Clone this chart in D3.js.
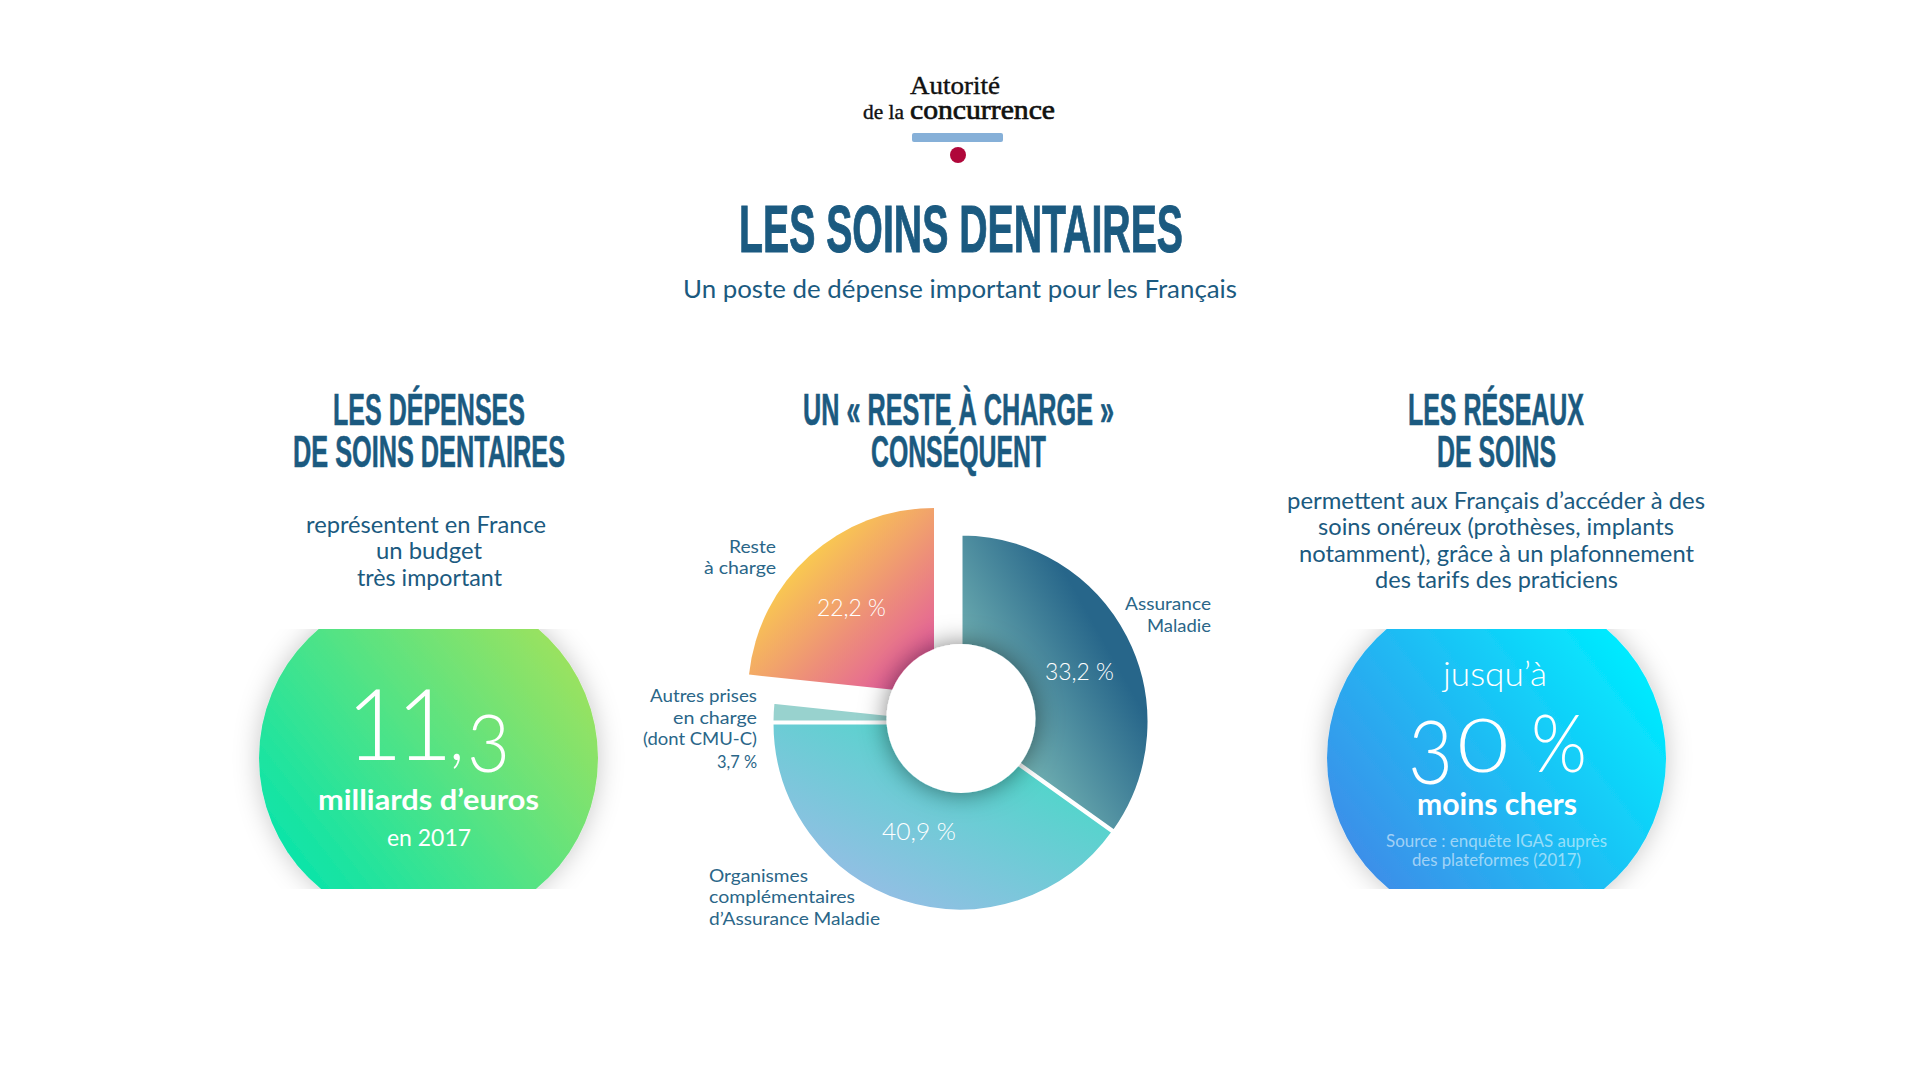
<!DOCTYPE html>
<html lang="fr">
<head>
<meta charset="utf-8">
<title>Les soins dentaires</title>
<script src="https://cdn.jsdelivr.net/npm/d3@7"></script>
<style>
    html, body { margin: 0; padding: 0; background: #fff; }
    svg { display: block; }
</style>
</head>
<body>
<div id="chart"></div>
<script>
(function () {
    'use strict';

    var BLUE = '#1b5a80';
    var LABEL = '#2a6688';
    var HEAD = '"Liberation Sans", Arial, sans-serif';
    var BODY = 'Lato, "Open Sans", sans-serif';
    var SERIF = '"Liberation Serif", serif';

    var svg = d3.select('#chart')
        .append('svg')
        .attr('width', 1920)
        .attr('height', 1080)
        .attr('viewBox', '0 0 1920 1080');

    var defs = svg.append('defs');

    // label = printed percentage, sweep = the angle the slice really has in the picture
    var slices = [
        { name: 'Assurance Maladie', label: '33,2 %', sweep: 125.5, dx: 0, dy: 0, r: 188,
          grad: [1146, 716, 1022, 786, '#27668a', '#76b6b5'] },
        { name: "Organismes complémentaires d'Assurance Maladie", label: '40,9 %', sweep: 144.5, dx: -1, dy: 1, r: 188,
          grad: [950, 740, 860, 920, '#55d4cc', '#9dbbe8'] },
        { name: 'Autres prises en charge (dont CMU-C)', label: '3,7 %', sweep: 6, dx: -1, dy: 0, r: 188,
          grad: [780, 700, 880, 720, '#98d2ce', '#98d2ce'] },
        { name: 'Reste à charge', label: '22,2 %', sweep: 84, dx: -27, dy: -28, r: 186,
          grad: [800, 565, 915, 680, '#f9c851', '#e2589f'] }
    ];

    var donut = { cx: 961, cy: 722, holeX: 961, holeY: 718.5, holeR: 74.5 };

    var circles = [
        { cx: 428.5, from: '#0ce4a9', to: '#9ae260', id: 'left' },
        { cx: 1496.5, from: '#3c8fe9', to: '#00ebff', id: 'right' }
    ];

    function linear(id, g, tx, ty) {
        var lg = defs.append('linearGradient')
            .attr('id', id)
            .attr('gradientUnits', 'userSpaceOnUse')
            .attr('x1', g[0] - tx).attr('y1', g[1] - ty)
            .attr('x2', g[2] - tx).attr('y2', g[3] - ty);
        lg.append('stop').attr('offset', 0).attr('stop-color', g[4]);
        lg.append('stop').attr('offset', 1).attr('stop-color', g[5]);
    }

    function shadow(id, blur, opacity) {
        var f = defs.append('filter')
            .attr('id', id)
            .attr('x', '-40%').attr('y', '-40%')
            .attr('width', '180%').attr('height', '180%');
        f.append('feDropShadow')
            .attr('dx', 0).attr('dy', 0)
            .attr('stdDeviation', blur)
            .attr('flood-color', '#000')
            .attr('flood-opacity', opacity);
    }

    shadow('circleShadow', 13, 0.22);
    shadow('holeShadow', 13, 0.5);

    // Side circles, cut flat at top and bottom together with their shadow
    circles.forEach(function (c) {
        var r = 169.5, cy = 758;

        defs.append('clipPath')
            .attr('id', 'clip-' + c.id)
            .append('rect')
            .attr('x', c.cx - 220).attr('y', 629)
            .attr('width', 440).attr('height', 260);

        linear('grad-' + c.id,
            [c.cx - r * 0.8, cy + r * 0.62, c.cx + r * 0.8, cy - r * 0.62, c.from, c.to], 0, 0);

        svg.append('g')
            .attr('clip-path', 'url(#clip-' + c.id + ')')
            .append('circle')
            .attr('cx', c.cx).attr('cy', cy).attr('r', r)
            .attr('fill', 'url(#grad-' + c.id + ')')
            .attr('filter', 'url(#circleShadow)');
    });

    // Donut
    var pie = d3.pie()
        .value(function (d) { return d.sweep; })
        .sort(null);

    var arc = d3.arc()
        .innerRadius(0)
        .outerRadius(function (a) { return a.data.r; });

    var arcs = pie(slices);

    arcs.forEach(function (a, i) {
        var d = a.data;
        var exploded = d.dx < -10;
        var tx = donut.cx + d.dx, ty = donut.cy + d.dy;
        linear('slice-' + i, d.grad, tx, ty);
        svg.append('path')
            .attr('class', 'slice')
            .attr('transform', 'translate(' + tx + ',' + ty + ')')
            .attr('d', arc(a))
            .attr('fill', 'url(#slice-' + i + ')')
            .attr('stroke', exploded ? 'none' : '#fff')
            .attr('stroke-width', exploded ? 0 : 3);
    });

    svg.append('circle')
        .attr('cx', donut.holeX).attr('cy', donut.holeY).attr('r', donut.holeR)
        .attr('fill', '#fff')
        .attr('filter', 'url(#holeShadow)');

    // Logo
    svg.append('rect')
        .attr('x', 912).attr('y', 133)
        .attr('width', 91).attr('height', 9).attr('rx', 2)
        .attr('fill', '#86b0d8');
    svg.append('circle')
        .attr('cx', 958).attr('cy', 155).attr('r', 8)
        .attr('fill', '#b0073a');

    // x = left edge, w = width measured on the picture
    var texts = [
        { t: 'Autorité', x: 910, y: 94, w: 90, size: 26, font: SERIF, fill: '#111', bold: 0.4 },
        { t: 'de la', x: 863, y: 119, w: 41, size: 21, font: SERIF, fill: '#111', bold: 0.4 },
        { t: 'concurrence', x: 910, y: 119, w: 145, size: 27, font: SERIF, fill: '#111', bold: 0.7 },

        { t: 'LES SOINS DENTAIRES', x: 739, y: 252, w: 444, size: 67, font: HEAD, weight: 700, fill: BLUE, bold: 1 },
        { t: 'Un poste de dépense important pour les Français', x: 683, y: 298, w: 554, size: 25, font: BODY },

        { t: 'LES DÉPENSES', x: 333, y: 425, w: 192, size: 44.5, font: HEAD, weight: 700, fill: BLUE, bold: 0.6 },
        { t: 'DE SOINS DENTAIRES', x: 293, y: 467, w: 272, size: 44.5, font: HEAD, weight: 700, fill: BLUE, bold: 0.6 },
        { t: 'UN « RESTE À CHARGE »', x: 803, y: 425, w: 311, size: 44.5, font: HEAD, weight: 700, fill: BLUE, bold: 0.6 },
        { t: 'CONSÉQUENT', x: 871, y: 467, w: 175, size: 44.5, font: HEAD, weight: 700, fill: BLUE, bold: 0.6 },
        { t: 'LES RÉSEAUX', x: 1408, y: 425, w: 176, size: 44.5, font: HEAD, weight: 700, fill: BLUE, bold: 0.6 },
        { t: 'DE SOINS', x: 1437, y: 467, w: 119, size: 44.5, font: HEAD, weight: 700, fill: BLUE, bold: 0.6 },

        { t: 'représentent en France', x: 306, y: 533, w: 240, size: 23, font: BODY },
        { t: 'un budget', x: 376, y: 559, w: 106, size: 23, font: BODY },
        { t: 'très important', x: 357, y: 586, w: 145, size: 23, font: BODY },

        { t: 'permettent aux Français d’accéder à des', x: 1287, y: 509, w: 418, size: 23, font: BODY },
        { t: 'soins onéreux (prothèses, implants', x: 1318, y: 535, w: 356, size: 23, font: BODY },
        { t: 'notamment), grâce à un plafonnement', x: 1299, y: 561.5, w: 395, size: 23, font: BODY },
        { t: 'des tarifs des praticiens', x: 1375, y: 588, w: 243, size: 23, font: BODY },

        { parts: [
            { t: '11', x: '346 396', y: 760, size: 98 },
            { t: ',', x: 449, y: 760, size: 70 },
            { t: '3', x: 467, y: 772, w: 43, size: 80 }
        ], font: BODY, weight: 300, fill: '#fff' },
        { t: 'milliards d’euros', x: 318, y: 810, w: 221, size: 29, font: BODY, weight: 700, fill: '#fff' },
        { t: 'en 2017', x: 387, y: 846, w: 84, size: 23, font: BODY, fill: '#fff' },

        { t: 'jusqu’à', x: 1443, y: 686, w: 104, size: 34, font: BODY, weight: 300, fill: '#fff' },
        { parts: [
            { t: '3', x: 1408, y: 784, w: 45, size: 89 },
            { t: '0', x: 1457, y: 772, w: 52, size: 74 },
            { t: ' ', x: 1515, y: 772, size: 74 },
            { t: '%', x: 1531, y: 772, w: 56, size: 80 }
        ], font: BODY, weight: 300, fill: '#fff' },
        { t: 'moins chers', x: 1417, y: 815, w: 160, size: 30, font: BODY, weight: 700, fill: '#fff' },
        { t: 'Source : enquête IGAS auprès', x: 1386, y: 847, w: 221, size: 17, font: BODY, fill: 'rgba(255,255,255,0.55)' },
        { t: 'des plateformes (2017)', x: 1412, y: 866, w: 169, size: 17, font: BODY, fill: 'rgba(255,255,255,0.55)' },

        { t: 'Reste', x: 729, y: 553, w: 47, size: 18, font: BODY, fill: LABEL },
        { t: 'à charge', x: 704, y: 574, w: 72, size: 18, font: BODY, fill: LABEL },
        { t: 'Assurance', x: 1125, y: 610, w: 86, size: 18, font: BODY, fill: LABEL },
        { t: 'Maladie', x: 1147, y: 632, w: 64, size: 18, font: BODY, fill: LABEL },
        { t: 'Autres prises', x: 650, y: 702, w: 107, size: 18, font: BODY, fill: LABEL },
        { t: 'en charge', x: 673, y: 724, w: 84, size: 18, font: BODY, fill: LABEL },
        { t: '(dont CMU-C)', x: 643, y: 745, w: 114, size: 18, font: BODY, fill: LABEL },
        { t: slices[2].label, x: 717, y: 768, w: 40, size: 18, font: BODY, fill: LABEL },
        { t: 'Organismes', x: 709, y: 882, w: 99, size: 18, font: BODY, fill: LABEL },
        { t: 'complémentaires', x: 709, y: 903, w: 146, size: 18, font: BODY, fill: LABEL },
        { t: 'd’Assurance Maladie', x: 709, y: 925, w: 171, size: 18, font: BODY, fill: LABEL },

        { t: slices[3].label, x: 817, y: 616, w: 69, size: 24, font: BODY, weight: 300, fill: '#fff' },
        { t: slices[0].label, x: 1045, y: 680, w: 69, size: 24, font: BODY, weight: 300, fill: '#fff' },
        { t: slices[1].label, x: 882, y: 840, w: 74, size: 24, font: BODY, weight: 300, fill: '#fff' }
    ];

    function place(sel, d) {
        sel.attr('x', d.x)
            .attr('y', d.y)
            .attr('font-size', d.size)
            .text(d.t);
        if (d.w) {
            sel.attr('textLength', d.w)
                .attr('lengthAdjust', 'spacingAndGlyphs');
        }
    }

    texts.forEach(function (d) {
        var el = svg.append('text')
            .attr('font-family', d.font)
            .attr('font-weight', d.weight || 400)
            .attr('fill', d.fill || BLUE);

        if (d.bold) {
            el.attr('stroke', d.fill).attr('stroke-width', d.bold);
        }

        if (d.parts) {
            d.parts.forEach(function (p) {
                place(el.append('tspan'), p);
            });
        } else {
            place(el, d);
        }
    });
})();
</script>
</body>
</html>
